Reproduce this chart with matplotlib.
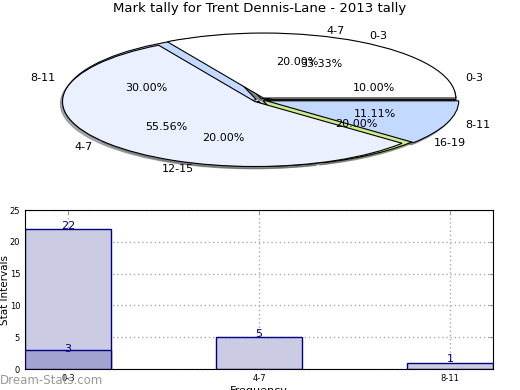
import matplotlib
matplotlib.use('Agg')
import matplotlib.pyplot as plt
import numpy as np

# pie data (two overlaid tallies)
outer_labels = ['0-3', '4-7', '8-11', '12-15', '16-19']
outer_values = [1, 2, 3, 2, 2]
inner_labels = ['0-3', '4-7', '8-11']
inner_values = [3, 5, 1]

# bar data
bar_labels = ['0-3', '4-7', '8-11']
bar_main = [22, 5, 1]
bar_first = [3]

fig = plt.figure(figsize=(5.2, 3.9), dpi=100)

fig.text(0.5, 0.995, 'Mark tally for Trent Dennis-Lane - 2013 tally',
         ha='center', va='top', fontsize=9.5)

# pie part
ax1 = fig.add_axes([0.0308, 0.532, 0.9385, 0.423])
wp = dict(edgecolor='black', linewidth=0.8)
sh = dict(ox=-0.008, oy=-0.025, shade=0.6)
ax1.pie(outer_values, labels=outer_labels, autopct='%1.2f%%',
        colors=['white', '#eaf0fd', '#c3d9ff', '#eaf0fd', '#cdeb8b'],
        explode=[0.02] * 5, shadow=sh, wedgeprops=wp, radius=0.985,
        textprops=dict(fontsize=8))
ax1.pie(inner_values, labels=inner_labels, autopct='%1.2f%%',
        colors=['white', '#eaf0fd', '#c3d9ff'],
        explode=[0.035] * 3, shadow=sh, wedgeprops=wp, radius=0.985,
        textprops=dict(fontsize=8))
ax1.set_aspect('auto')
ax1.set_xlim(-1.25, 1.25)
ax1.set_ylim(-1.25, 1.25)
ax1.axis('off')

# bar part
ax2 = fig.add_axes([0.048, 0.0538, 0.9, 0.4077])
x = np.arange(len(bar_labels))
ax2.bar(x, bar_main, width=0.45, color='#cbcbe3', edgecolor='#000080', linewidth=1, zorder=2)
ax2.bar(x[:len(bar_first)], bar_first, width=0.45, color='#a3a3d1', edgecolor='#000080', linewidth=1, zorder=3)
for xi, v in zip(x, bar_main):
    ax2.text(xi, v + 0.5, str(v), ha='center', va='center', color='#000080', fontsize=8, zorder=4)
for xi, v in zip(x, bar_first):
    ax2.text(xi, v + 0.1, str(v), ha='center', va='center', color='#000080', fontsize=8, zorder=4)

ax2.set_xlim(-0.225, 2.225)
ax2.set_ylim(0, 25)
ax2.set_xticks(x)
ax2.set_xticklabels(bar_labels)
ax2.set_yticks([0, 5, 10, 15, 20, 25])
ax2.tick_params(direction='in', top=True, right=True, labelsize=6, length=3, color='#999999')
ax2.grid(True, linestyle=(0, (1, 2)), color='#aaaaaa', linewidth=1, zorder=0)
ax2.set_axisbelow(True)
ax2.set_ylabel('Stat Intervals', fontsize=7.5, labelpad=0)
ax2.set_xlabel('Frequency', fontsize=8, labelpad=2)

fig.text(0.0, 0.008, 'Dream-Stats.com', color='#999999', fontsize=8.5, ha='left', va='bottom')

fig.savefig('out.png', dpi=100)
